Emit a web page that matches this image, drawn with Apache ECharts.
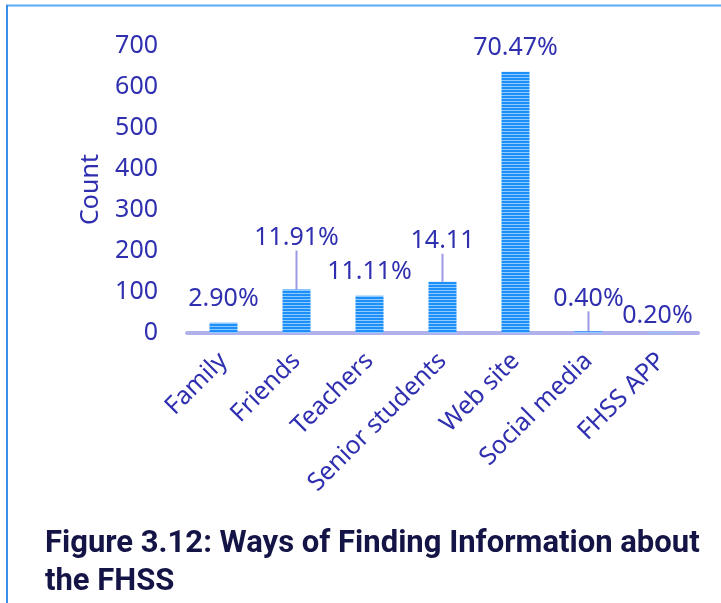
<!DOCTYPE html>
<html><head><meta charset="utf-8">
<script src="https://cdn.jsdelivr.net/npm/echarts@6/dist/echarts.min.js"></script>
<style>html,body{margin:0;padding:0;background:#fff}#c{width:721px;height:603px}</style>
</head><body><div id="c"></div>
<script>
const categories = ['Family','Friends','Teachers','Senior students','Web site','Social media','FHSS APP'];
const counts = [25, 106, 91, 125, 637, 4, 2];
const percentLabels = ['2.90%','11.91%','11.11%','14.11','70.47%','0.40%','0.20%'];
const yTicks = [0,100,200,300,400,500,600,700];
const titleLines = ['Figure 3.12: Ways of Finding Information about','the FHSS'];

const TXT = '#2f2fb0';
const FONT = '"Noto Sans", "Open Sans", sans-serif';

// striped fill
const pc = document.createElement('canvas');
pc.width = 4; pc.height = 3;
const g = pc.getContext('2d');
g.fillStyle = '#1e8ef8'; g.fillRect(0,0,4,2);
g.fillStyle = '#8ccaff'; g.fillRect(0,2,4,1);

// label offsets for displaced labels (with leader lines)
const labelShift = {1:{dy:-28,line:true},3:{dy:-17,line:true},5:{dy:-9,line:true},6:{dx:-4,dy:7}};

const seriesData = counts.map((v,i)=>({
  value:v,
  labelLine:{show: !!(labelShift[i] && labelShift[i].line)}
}));

const chart = echarts.init(document.getElementById('c'));
chart.setOption({
  animation:false,
  backgroundColor:'#fff',
  textStyle:{fontFamily:FONT},
  title:{
    text: titleLines.join('\n'),
    left: 40, top: 520,
    textStyle:{fontFamily:'Roboto, sans-serif', fontWeight:'bold', fontSize:31, lineHeight:38, color:'#141446'}
  },
  grid:{left:187, right:23, top:46, bottom:270},
  xAxis:{
    type:'category', data:categories,
    axisLine:{lineStyle:{color:'#b0b0ea', width:4}},
    axisTick:{show:false},
    axisLabel:{rotate:45, interval:0, color:TXT, fontSize:25, margin:24, fontFamily:FONT}
  },
  yAxis:{
    type:'value', min:yTicks[0], max:yTicks[yTicks.length-1], interval:100,
    name:'Count', nameLocation:'middle', nameGap:84,
    nameTextStyle:{color:TXT, fontSize:25, fontFamily:FONT},
    axisLine:{show:false}, axisTick:{show:false}, splitLine:{show:false},
    axisLabel:{color:TXT, fontSize:25, margin:29, fontFamily:FONT}
  },
  series:[{
    type:'bar',
    data:seriesData,
    barWidth:28,
    itemStyle:{color:{image:pc, repeat:'repeat'}},
    label:{
      show:true, position:'top', distance:11, color:TXT, fontSize:25, fontFamily:FONT,
      formatter:p=>percentLabels[p.dataIndex]
    },
    labelLine:{show:false, lineStyle:{color:'#9a9ae6', width:2}},
    labelLayout:function(p){
      const s = labelShift[p.dataIndex];
      if(!s) return {};
      return {dx:s.dx||0, dy:s.dy||0};
    }
  }],
  graphic:[
    {type:'line', shape:{x1:6,y1:5.5,x2:721,y2:5.5}, style:{stroke:'#5aaaf5', lineWidth:2}, z:100},
    {type:'line', shape:{x1:7,y1:5,x2:7,y2:603}, style:{stroke:'#3a8ee6', lineWidth:2}, z:100}
  ]
});
</script></body></html>
